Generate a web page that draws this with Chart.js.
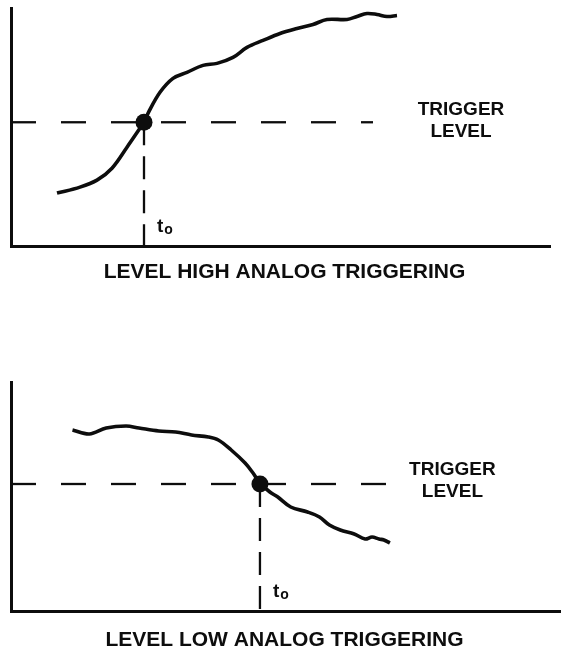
<!DOCTYPE html>
<html>
<head>
<meta charset="utf-8">
<script src="https://cdn.jsdelivr.net/npm/chart.js@4.4.1/dist/chart.umd.min.js"></script>
<style>
  html, body { margin: 0; padding: 0; background: #fff; }
  .panel { position: absolute; left: 0; width: 569px; }
  #topWrap { top: 0; height: 300px; }
  #lowWrap { top: 300px; height: 352px; }
</style>
</head>
<body>
<div class="panel" id="topWrap"><canvas id="topChart"></canvas></div>
<div class="panel" id="lowWrap"><canvas id="lowChart"></canvas></div>
<script>
// level high: signal rising through the trigger level
const highTime   = [46, 69, 86, 101, 116, 129, 133, 137, 149, 162, 176, 192, 206, 222, 236, 252, 269, 286, 302, 316, 336, 346, 356, 366, 376, 386];
const highSignal = [53, 59, 66, 78, 99, 118, 124, 133, 154, 168, 174, 181, 183, 189, 199, 206, 213, 218, 222, 227, 227, 230, 233, 232, 230, 231];
const highTrigger = 124, highT0 = 133, highDashEnd = 362;

// level low: signal falling through the trigger level
const lowTime   = [62, 79, 96, 116, 129, 149, 166, 182, 199, 209, 222, 236, 244, 251, 261, 269, 282, 299, 311, 321, 332, 346, 357, 364, 371, 376, 382];
const lowSignal = [181, 177, 183, 185, 183, 180, 179, 176, 174, 171, 161, 148, 138, 128, 119, 114, 104, 99, 94, 86, 81, 77, 72, 74, 72, 71, 68];
const lowTrigger = 127, lowT0 = 251, lowDashEnd = 379;

const INK = '#0d0d0d';
const FONT = "'Liberation Sans', Arial, Helvetica, sans-serif";

const xy = (xs, ys) => xs.map((x, i) => ({ x, y: ys[i] }));

// texts drawn at data positions
const textPlugin = {
  id: 'texts',
  afterDraw(chart, args, o) {
    const { ctx, scales: { x, y } } = chart;
    ctx.save();
    ctx.fillStyle = INK;
    ctx.textBaseline = 'alphabetic';
    ctx.textAlign = 'center';
    ctx.font = `bold 19px ${FONT}`;
    ctx.fillText('TRIGGER', x.getPixelForValue(o.labelX), y.getPixelForValue(o.labelY));
    ctx.fillText('LEVEL', x.getPixelForValue(o.labelX), y.getPixelForValue(o.labelY) + 22);
    // t with subscript o
    ctx.textAlign = 'left';
    const tx = x.getPixelForValue(o.t0) + 13, ty = y.getPixelForValue(0) - 14;
    ctx.font = `bold 19px ${FONT}`;
    ctx.fillText('t', tx, ty);
    const tw = ctx.measureText('t').width;
    ctx.font = `bold 14px ${FONT}`;
    ctx.fillText('o', tx + tw + 1, ty + 2);
    // caption under the axis
    ctx.textAlign = 'center';
    ctx.font = `bold 21px ${FONT}`;
    ctx.fillText(o.title, chart.width / 2, chart.chartArea.bottom + o.titleGap);
    ctx.restore();
  },
};

function panel(canvas, p) {
  return new Chart(canvas.getContext('2d'), {
    type: 'line',
    data: {
      datasets: [
        { data: xy(p.time, p.signal), borderColor: INK, borderWidth: 3.6, tension: 0.35, pointRadius: 0, order: 1, clip: false },
        { data: [{ x: 0, y: p.trigger }, { x: p.dashEnd, y: p.trigger }], borderColor: INK, borderWidth: 2.3, borderDash: [25, 25], pointRadius: 0, order: 3, clip: false },
        { data: [{ x: p.t0, y: p.trigger }, { x: p.t0, y: 0 }], borderColor: INK, borderWidth: 2.3, borderDash: [23, 11], pointRadius: 0, order: 3, clip: false },
        { data: [{ x: p.t0, y: p.trigger }], showLine: false, pointRadius: 8.5, pointBackgroundColor: INK, pointBorderWidth: 0, order: 0, clip: false },
      ],
    },
    options: {
      responsive: true, maintainAspectRatio: false, animation: false,
      layout: { padding: p.pad },
      plugins: {
        legend: { display: false }, tooltip: { enabled: false },
        texts: { labelX: p.labelX, labelY: p.labelY, t0: p.t0, title: p.title, titleGap: p.titleGap },
      },
      scales: {
        x: { type: 'linear', min: 0, max: p.xMax, grid: { display: false, drawTicks: false }, ticks: { display: false }, border: { color: INK, width: 3 } },
        y: { type: 'linear', min: 0, max: p.yMax, grid: { display: false, drawTicks: false }, ticks: { display: false }, border: { color: INK, width: 3 } },
      },
    },
    plugins: [textPlugin],
  });
}

panel(document.getElementById('topChart'), {
  time: highTime, signal: highSignal, trigger: highTrigger, t0: highT0, dashEnd: highDashEnd,
  xMax: 539, yMax: 238, pad: { left: 11, top: 8, right: 19, bottom: 54 },
  labelX: 450, labelY: 131, title: 'LEVEL HIGH ANALOG TRIGGERING', titleGap: 32,
});

panel(document.getElementById('lowChart'), {
  time: lowTime, signal: lowSignal, trigger: lowTrigger, t0: lowT0, dashEnd: lowDashEnd,
  xMax: 554, yMax: 229, pad: { left: 11, top: 82, right: 4, bottom: 41 },
  labelX: 445, labelY: 136, title: 'LEVEL LOW ANALOG TRIGGERING', titleGap: 35,
});
</script>
</body>
</html>
